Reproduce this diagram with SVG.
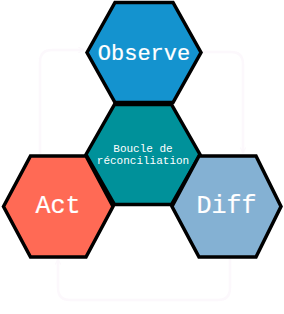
<svg xmlns="http://www.w3.org/2000/svg" width="284" height="314" viewBox="0 0 284 314">
<defs>
<style>
.hex{stroke:#000;stroke-width:3.5;stroke-linejoin:miter}
.lbl{font-family:"Liberation Mono","DejaVu Sans Mono",monospace;fill:#fff;stroke:#fff;stroke-width:0.2;text-anchor:middle}
.big{font-size:25px}
.mid{font-size:22px}
.small{font-size:11px;stroke-width:0}
.conn{fill:none;stroke:#fcf8fc;stroke-width:2.5}
</style>
<marker id="arr" viewBox="0 0 10 10" refX="9" refY="5" markerWidth="7" markerHeight="7" orient="auto" markerUnits="userSpaceOnUse">
<path d="M1,1 L9,5 L1,9" fill="none" stroke="#fcf8fc" stroke-width="1.5"/>
</marker>
</defs>
<rect width="284" height="314" fill="#fff"/>
<g id="connectors">
<path class="conn" d="M40,154 V62 Q40,50 52,50 H84" marker-end="url(#arr)"/>
<path class="conn" d="M203,52 H231 Q243,52 243,64 V153" marker-end="url(#arr)"/>
<path class="conn" d="M230,259 V288 Q230,300 218,300 H70 Q58,300 58,288 V259" marker-end="url(#arr)"/>
</g>
<g id="center">
<polygon class="hex" fill="#00919a" points="86,154.5 114.5,104.5 171.5,104.5 200,154.5 171.5,204.5 114.5,204.5"/>
<text class="lbl small" x="143" y="152">Boucle de</text>
<text class="lbl small" x="143" y="164">réconciliation</text>
</g>
<g id="observe">
<polygon class="hex" fill="#1493cf" points="87,52.5 115,2.5 173,2.5 201,52.5 173,102.5 115,102.5"/>
<text class="lbl mid" x="144" y="59.5">Observe</text>
</g>
<g id="act">
<polygon class="hex" fill="#ff6a55" points="3.5,206.5 30.5,156 86,156 113,206.5 86,257 30.5,257"/>
<text class="lbl big" x="58" y="212.5">Act</text>
</g>
<g id="diff">
<polygon class="hex" fill="#84b1d3" points="172,206.5 199,156 256,156 281,206.5 256,257 199,257"/>
<text class="lbl big" x="226.5" y="212.5">Diff</text>
</g>
</svg>
